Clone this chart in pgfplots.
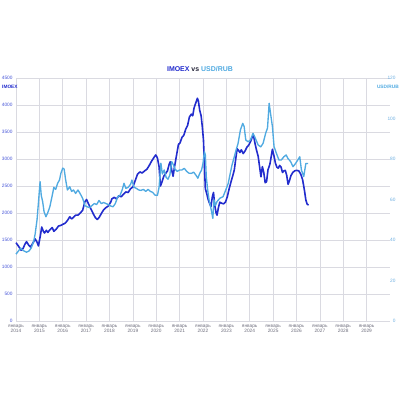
\documentclass[border=0pt]{standalone}
\usepackage{fontspec}
\setmainfont{Liberation Sans}
\usepackage{pgfplots}
\pgfplotsset{compat=1.18}
\definecolor{imoex}{RGB}{34,44,205}
\definecolor{usd}{RGB}{80,170,225}
\definecolor{imoexlab}{RGB}{70,85,215}
\definecolor{usdlab}{RGB}{110,175,225}
\definecolor{gridc}{RGB}{218,218,225}
\definecolor{xlab}{RGB}{110,110,125}
\definecolor{vsc}{RGB}{40,40,60}
\begin{document}
\begin{tikzpicture}
\path[use as bounding box] (0,0) rectangle (400bp,400bp);
\begin{axis}[at={(16bp,79bp)}, anchor=south west, scale only axis,
  width=374bp, height=243bp,
  xmin=2014, xmax=2030, ymin=0, ymax=4500,
  xtick={2014,...,2029},
  xticklabels={{январь\\2014},{январь\\2015},{январь\\2016},{январь\\2017},{январь\\2018},{январь\\2019},{январь\\2020},{январь\\2021},{январь\\2022},{январь\\2023},{январь\\2024},{январь\\2025},{январь\\2026},{январь\\2027},{январь\\2028},{январь\\2029}},
  ytick={0,500,...,4500},
  grid=major, major grid style={gridc, line width=0.6bp},
  axis line style={draw=none}, major tick length=0pt,
  axis y line*=left, axis x line*=bottom,
  tick label style={font=\fontsize{4.8}{5.2}\selectfont},
  yticklabel style={imoexlab},
  xticklabel style={xlab, align=center},
  /pgf/number format/assume math mode=true, /pgf/number format/1000 sep={},
  clip=false]
\addplot[imoex, line width=1.6bp, line join=round] coordinates {
(2014.00,1450)(2014.10,1390)(2014.22,1310)(2014.30,1340)(2014.38,1420)(2014.45,1470)(2014.55,1400)(2014.62,1370)(2014.72,1440)(2014.82,1520)(2014.90,1460)(2014.96,1390)
(2015.05,1600)(2015.10,1740)(2015.17,1660)(2015.22,1630)(2015.30,1680)(2015.36,1640)(2015.45,1690)(2015.55,1730)(2015.62,1660)(2015.72,1700)(2015.82,1760)(2015.92,1770)
(2016.00,1790)(2016.10,1810)(2016.20,1860)(2016.30,1930)(2016.38,1890)(2016.46,1920)(2016.55,1960)(2016.65,1960)(2016.75,2000)(2016.85,2050)(2016.95,2210)
(2017.02,2250)(2017.10,2170)(2017.20,2080)(2017.30,1990)(2017.40,1910)(2017.48,1880)(2017.56,1920)(2017.65,1990)(2017.75,2060)(2017.85,2100)(2017.95,2130)
(2018.05,2200)(2018.10,2260)(2018.20,2290)(2018.30,2260)(2018.40,2320)(2018.50,2300)(2018.60,2350)(2018.70,2390)(2018.80,2380)(2018.90,2450)
(2019.00,2480)(2019.10,2600)(2019.20,2720)(2019.30,2760)(2019.40,2740)(2019.50,2780)(2019.60,2810)(2019.70,2880)(2019.80,2960)(2019.92,3040)(2019.98,3075)
(2020.05,3020)(2020.12,2860)(2020.18,2500)(2020.25,2580)(2020.32,2680)(2020.40,2730)(2020.48,2780)(2020.55,2900)(2020.60,2950)(2020.66,2800)(2020.72,2680)(2020.78,2850)(2020.86,3050)(2020.95,3270)
(2021.02,3300)(2021.10,3400)(2021.18,3440)(2021.26,3550)(2021.34,3620)(2021.42,3780)(2021.50,3830)(2021.56,3800)(2021.62,3950)(2021.70,4050)(2021.76,4125)(2021.80,4080)(2021.86,3900)(2021.92,3800)(2021.97,3600)
(2022.02,3350)(2022.06,2900)(2022.10,2450)(2022.16,2360)(2022.22,2250)(2022.28,2180)(2022.34,2120)(2022.40,2300)(2022.45,2380)(2022.50,2150)(2022.56,2000)(2022.60,1960)(2022.66,2100)(2022.72,2200)(2022.80,2180)(2022.88,2170)(2022.96,2200)
(2023.04,2300)(2023.12,2450)(2023.20,2580)(2023.28,2700)(2023.34,2800)(2023.40,3000)(2023.46,3190)(2023.52,3160)(2023.58,3120)(2023.64,3170)(2023.72,3100)(2023.80,3150)(2023.88,3220)(2023.96,3260)
(2024.04,3330)(2024.10,3400)(2024.16,3440)(2024.22,3300)(2024.28,3180)(2024.36,3050)(2024.42,2860)(2024.48,2670)(2024.54,2860)(2024.60,2750)(2024.66,2560)(2024.72,2580)(2024.78,2800)(2024.86,2900)(2024.92,3050)(2024.97,3180)
(2025.04,3050)(2025.10,2920)(2025.16,2850)(2025.22,2830)(2025.28,2880)(2025.34,2850)(2025.40,2750)(2025.46,2780)(2025.52,2790)(2025.58,2700)(2025.64,2530)(2025.70,2600)(2025.76,2690)(2025.84,2750)(2025.92,2780)
(2026.00,2790)(2026.10,2780)(2026.18,2720)(2026.26,2620)(2026.34,2420)(2026.40,2240)(2026.46,2160)(2026.52,2150)
};
\end{axis}
\begin{axis}[at={(16bp,79bp)}, anchor=south west, scale only axis,
  width=374bp, height=243bp,
  xmin=2014, xmax=2030, ymin=0, ymax=120,
  ytick={0,20,...,120},
  axis y line*=right, axis x line=none,
  axis line style={draw=none}, major tick length=0pt,
  tick label style={font=\fontsize{4.8}{5.2}\selectfont},
  yticklabel style={usdlab, anchor=east, xshift=9bp},
  /pgf/number format/assume math mode=true,
  clip=false]
\addplot[usd, line width=1.35bp, line join=round] coordinates {
(2014.00,33)(2014.10,34.5)(2014.20,36)(2014.28,35)(2014.36,34.5)(2014.45,34)(2014.55,34.5)(2014.65,36)(2014.75,39)(2014.82,43)(2014.90,50)(2014.95,57)
(2015.03,68.8)(2015.08,62)(2015.14,59)(2015.20,54)(2015.28,51.5)(2015.36,53.5)(2015.45,56.5)(2015.55,62)(2015.62,66)(2015.70,65)(2015.78,68)(2015.86,69.6)(2015.92,72.9)
(2016.00,75.5)(2016.06,75)(2016.12,70)(2016.20,64.7)(2016.30,66.3)(2016.38,64)(2016.46,64.7)(2016.55,63)(2016.65,64.7)(2016.74,63)(2016.85,60.6)(2016.95,57)
(2017.04,56.4)(2017.15,56)(2017.25,57)(2017.35,58)(2017.45,57.5)(2017.55,59.5)(2017.65,58)(2017.75,58.5)(2017.85,58)(2017.95,57.5)
(2018.05,56.8)(2018.15,56.4)(2018.25,58)(2018.35,61.4)(2018.45,62)(2018.55,65)(2018.62,68)(2018.70,65.5)(2018.80,66)(2018.90,67.5)(2018.96,69.6)
(2019.05,66)(2019.15,65.5)(2019.25,64.7)(2019.35,64.5)(2019.45,65)(2019.55,64)(2019.65,65)(2019.75,64)(2019.85,63.5)(2019.94,62.2)
(2020.05,62)(2020.12,66)(2020.20,77.9)(2020.26,72.6)(2020.34,74.6)(2020.42,71)(2020.50,70)(2020.58,72)(2020.66,78.7)(2020.74,77)(2020.80,75)(2020.90,73.9)
(2021.00,74.6)(2021.10,74.6)(2021.20,75.4)(2021.30,73.9)(2021.40,73)(2021.50,72.9)(2021.60,73.5)(2021.70,72)(2021.78,70.5)(2021.86,72.9)(2021.94,74.6)
(2022.00,77.9)(2022.06,83.6)(2022.10,82)(2022.14,71.3)(2022.20,64.7)(2022.26,59.8)(2022.34,55.6)(2022.42,50.7)(2022.47,59.8)(2022.53,57)(2022.60,59)(2022.72,60.6)(2022.86,61.4)
(2023.00,65.5)(2023.08,68)(2023.15,72)(2023.24,77)(2023.32,80.3)(2023.43,85)(2023.50,87.7)(2023.60,94.3)(2023.70,97.6)(2023.76,96)(2023.83,89.4)(2023.93,88.5)
(2024.03,89.4)(2024.14,92.7)(2024.21,91)(2024.36,86.9)(2024.47,86)(2024.57,87.7)(2024.68,92.7)(2024.76,95.3)(2024.83,107.5)(2024.89,102.5)(2024.97,96)
(2025.04,86.1)(2025.14,82.8)(2025.25,79.5)(2025.35,79.5)(2025.46,81.1)(2025.56,82)(2025.63,80.3)(2025.75,78.7)(2025.85,76.2)(2025.96,77.8)
(2026.14,81.1)(2026.21,74.6)(2026.31,71.3)(2026.40,77.8)(2026.50,77.8)
};
\end{axis}
\node[font=\fontsize{7}{8}\selectfont\bfseries] at (200bp,331bp) {\textcolor{imoex}{IMOEX} \textcolor{vsc}{vs} \textcolor{usd}{USD/RUB}};
\node[anchor=west, inner sep=0pt, font=\fontsize{4.8}{5}\selectfont\bfseries, text=imoex] at (2bp,313bp) {IMOEX};
\node[anchor=east, inner sep=0pt, font=\fontsize{4.8}{5}\selectfont\bfseries, text=usd] at (399bp,313bp) {USD/RUB};
\end{tikzpicture}
\end{document}
